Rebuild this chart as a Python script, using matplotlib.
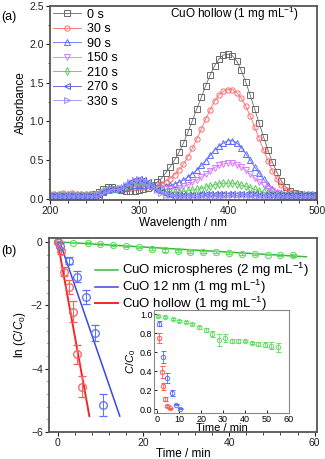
import numpy as np
import matplotlib
matplotlib.use("Agg")
import matplotlib.pyplot as plt
from matplotlib.ticker import MultipleLocator, FormatStrFormatter

plt.rcParams['font.family'] = ['Liberation Sans', 'DejaVu Sans']
plt.rcParams['mathtext.fontset'] = 'custom'
plt.rcParams['mathtext.rm'] = 'Liberation Sans'
plt.rcParams['mathtext.it'] = 'Liberation Sans:italic'

# ---- panel (a): absorption spectra ----
wavelength = np.arange(200, 505, 5)

abs_0s = [0.05, 0.05, 0.05, 0.05, 0.05, 0.05, 0.05, 0.05, 0.05, 0.05,
          0.06, 0.08, 0.13, 0.15, 0.15, 0.13, 0.11, 0.10, 0.10, 0.10,
          0.11, 0.12, 0.14, 0.17, 0.21, 0.26, 0.33, 0.41, 0.50, 0.60,
          0.72, 0.86, 1.01, 1.16, 1.31, 1.46, 1.60, 1.72, 1.81, 1.86,
          1.87, 1.85, 1.78, 1.66, 1.51, 1.34, 1.16, 0.98, 0.80, 0.63,
          0.47, 0.34, 0.23, 0.15, 0.10, 0.07, 0.06, 0.05, 0.05, 0.05,
          0.05]
abs_30s = [0.06, 0.06, 0.06, 0.07, 0.06, 0.07, 0.06, 0.06, 0.06, 0.06,
           0.06, 0.07, 0.09, 0.11, 0.12, 0.12, 0.12, 0.13, 0.14, 0.15,
           0.15, 0.15, 0.15, 0.16, 0.17, 0.19, 0.22, 0.26, 0.31, 0.37,
           0.45, 0.54, 0.65, 0.77, 0.90, 1.03, 1.15, 1.26, 1.34, 1.39,
           1.41, 1.41, 1.37, 1.30, 1.20, 1.07, 0.93, 0.78, 0.63, 0.49,
           0.36, 0.25, 0.17, 0.11, 0.08, 0.07, 0.06, 0.06, 0.06, 0.06,
           0.06]
abs_90s = [0.04, 0.04, 0.04, 0.04, 0.04, 0.04, 0.04, 0.04, 0.04, 0.04,
           0.04, 0.06, 0.09, 0.11, 0.12, 0.12, 0.13, 0.14, 0.16, 0.17,
           0.18, 0.18, 0.17, 0.16, 0.15, 0.15, 0.16, 0.17, 0.19, 0.21,
           0.24, 0.28, 0.32, 0.37, 0.43, 0.49, 0.56, 0.63, 0.68, 0.72,
           0.75, 0.75, 0.72, 0.66, 0.58, 0.50, 0.41, 0.33, 0.25, 0.18,
           0.13, 0.09, 0.07, 0.05, 0.04, 0.04, 0.04, 0.04, 0.04, 0.04,
           0.04]
abs_150s = [0.04, 0.04, 0.04, 0.04, 0.04, 0.04, 0.04, 0.04, 0.04, 0.04,
            0.04, 0.06, 0.09, 0.11, 0.12, 0.12, 0.13, 0.15, 0.17, 0.19,
            0.20, 0.19, 0.17, 0.15, 0.13, 0.12, 0.12, 0.12, 0.13, 0.14,
            0.16, 0.18, 0.21, 0.24, 0.28, 0.32, 0.36, 0.40, 0.43, 0.45,
            0.46, 0.46, 0.44, 0.41, 0.37, 0.32, 0.27, 0.22, 0.17, 0.13,
            0.10, 0.07, 0.05, 0.04, 0.04, 0.04, 0.04, 0.04, 0.04, 0.04,
            0.04]
abs_210s = [0.04, 0.04, 0.04, 0.04, 0.04, 0.04, 0.04, 0.04, 0.04, 0.04,
            0.04, 0.06, 0.10, 0.12, 0.13, 0.13, 0.14, 0.16, 0.19, 0.21,
            0.22, 0.21, 0.19, 0.16, 0.13, 0.11, 0.09, 0.08, 0.08, 0.08,
            0.09, 0.10, 0.11, 0.12, 0.13, 0.15, 0.16, 0.18, 0.19, 0.20,
            0.20, 0.20, 0.19, 0.17, 0.16, 0.14, 0.12, 0.10, 0.08, 0.07,
            0.06, 0.05, 0.04, 0.04, 0.04, 0.04, 0.04, 0.04, 0.04, 0.04,
            0.04]
abs_270s = [0.03, 0.03, 0.03, 0.03, 0.03, 0.03, 0.03, 0.03, 0.03, 0.03,
            0.03, 0.05, 0.09, 0.12, 0.13, 0.13, 0.14, 0.17, 0.21, 0.24,
            0.25, 0.24, 0.21, 0.16, 0.11, 0.08, 0.06, 0.05, 0.05, 0.05,
            0.05, 0.05, 0.05, 0.05, 0.06, 0.06, 0.06, 0.06, 0.06, 0.065,
            0.065, 0.065, 0.065, 0.06, 0.06, 0.06, 0.06, 0.05, 0.05, 0.05,
            0.05, 0.04, 0.04, 0.04, 0.04, 0.04, 0.04, 0.04, 0.04, 0.04,
            0.04]
abs_330s = [0.02, 0.02, 0.02, 0.02, 0.02, 0.02, 0.02, 0.02, 0.02, 0.02,
            0.02, 0.04, 0.08, 0.11, 0.12, 0.12, 0.14, 0.17, 0.21, 0.24,
            0.25, 0.24, 0.21, 0.16, 0.11, 0.07, 0.05, 0.04, 0.03, 0.03,
            0.03, 0.03, 0.03, 0.03, 0.03, 0.03, 0.03, 0.03, 0.03, 0.03,
            0.04, 0.04, 0.04, 0.04, 0.04, 0.03, 0.03, 0.03, 0.03, 0.03,
            0.03, 0.03, 0.02, 0.02, 0.02, 0.02, 0.02, 0.02, 0.02, 0.02,
            0.02]

spectra = [abs_0s, abs_30s, abs_90s, abs_150s, abs_210s, abs_270s, abs_330s]
spec_labels = ['0 s', '30 s', '90 s', '150 s', '210 s', '270 s', '330 s']
spec_colors = ['#6a6a6a', '#ff6a6a', '#5c6cff', '#d77cff', '#55cc55', '#4c5cdc', '#9a8cff']
spec_markers = ['s', 'o', '^', 'v', 'd', '<', '>']

# ---- panel (b): kinetics ----
t_micro = [0, 3.5, 7, 10, 13, 16, 19, 22, 25, 28, 31, 34, 37, 40, 43, 46, 49, 52, 55]
ln_micro = [0, -0.02, -0.03, -0.06, -0.09, -0.13, -0.17, -0.22, -0.27, -0.29,
            -0.31, -0.31, -0.33, -0.35, -0.37, -0.38, -0.40, -0.41, -0.43]
err_micro = [0.03, 0.03, 0.03, 0.03, 0.03, 0.03, 0.03, 0.03, 0.04, 0.04,
             0.03, 0.03, 0.03, 0.03, 0.03, 0.03, 0.03, 0.04, 0.04]

t_12nm = [0, 0.6, 2.7, 4.6, 6.6, 8.7, 10.6]
ln_12nm = [0, -0.12, -0.59, -1.10, -1.74, -2.88, -5.14]
err_12nm = [0.02, 0.08, 0.12, 0.18, 0.22, 0.25, 0.35]

t_hollow = [0, 0.8, 1.5, 2.6, 3.5, 4.6, 5.6]
ln_hollow = [0, -0.29, -0.94, -1.41, -2.20, -3.54, -4.57]
err_hollow = [0.02, 0.08, 0.15, 0.22, 0.32, 0.30, 0.32]

# linear fits (start / end points)
fit_micro_t = [0, 58]
fit_micro_y = [0, -0.47]
fit_12nm_t = [0.5, 14.5]
fit_12nm_y = [0, -5.5]
fit_hollow_t = [0, 7.4]
fit_hollow_y = [0, -5.5]

# inset: C/C0
ins_t_micro = [0.5, 3.5, 7, 10, 13, 16, 19, 22, 25, 28, 31, 34, 37, 40, 43, 46, 49, 52, 55]
ins_c_micro = [0.98, 0.97, 0.95, 0.93, 0.92, 0.90, 0.86, 0.83, 0.79, 0.73,
               0.75, 0.72, 0.72, 0.72, 0.70, 0.69, 0.68, 0.67, 0.65]
ins_e_micro = [0.01, 0.01, 0.01, 0.01, 0.01, 0.01, 0.02, 0.02, 0.03, 0.06,
               0.04, 0.02, 0.02, 0.01, 0.01, 0.02, 0.03, 0.04, 0.05]
ins_t_12nm = [0.6, 2.7, 4.5, 6.5, 8.6, 10.5]
ins_c_12nm = [0.90, 0.55, 0.33, 0.17, 0.05, 0.005]
ins_e_12nm = [0.03, 0.06, 0.05, 0.03, 0.01, 0.005]
ins_t_hollow = [0.6, 1.9, 2.6, 3.5, 4.6, 5.6]
ins_c_hollow = [0.75, 0.39, 0.24, 0.11, 0.03, 0.01]
ins_e_hollow = [0.05, 0.06, 0.04, 0.02, 0.01, 0.005]

c_green = '#3cb83c'
c_blue = '#3848e8'
c_red = '#f02828'
m_green = '#66dd66'
m_blue = '#5c70ff'
m_red = '#ff5c5c'
spine_col = '#555555'


def style_axes(ax, lw=1.3):
    for s in ax.spines.values():
        s.set_color(spine_col)
        s.set_linewidth(lw)
    ax.tick_params(which='both', direction='out', colors='#222222', labelsize=7.5, pad=1.5)
    ax.tick_params(which='major', length=3, width=0.8)
    ax.tick_params(which='minor', length=1.8, width=0.6)


fig = plt.figure(figsize=(3.25, 4.59), dpi=100)

# ---------------- (a) ----------------
ax1 = fig.add_axes([0.154, 0.564, 0.821, 0.424])
for y, lab, col, mk in zip(spectra, spec_labels, spec_colors, spec_markers):
    ax1.plot(wavelength, y, color=col, marker=mk, markersize=3.8,
             markerfacecolor='none', markeredgewidth=0.7, linewidth=0.6, label=lab)
ax1.set_xlim(200, 500)
ax1.set_ylim(-0.02, 2.5)
ax1.xaxis.set_major_locator(MultipleLocator(100))
ax1.xaxis.set_minor_locator(MultipleLocator(20))
ax1.yaxis.set_major_locator(MultipleLocator(0.5))
ax1.yaxis.set_minor_locator(MultipleLocator(0.25))
ax1.yaxis.set_major_formatter(FormatStrFormatter('%.1f'))
style_axes(ax1)
ax1.set_xlabel('Wavelength / nm', fontsize=8.5, labelpad=0.5)
ax1.set_ylabel('Absorbance', fontsize=8.5, labelpad=2)
ax1.text(0.93, 0.958, 'CuO hollow (1 mg mL$^{-1}$)', transform=ax1.transAxes,
         ha='right', va='center', fontsize=8.5)
ax1.legend(loc='upper left', fontsize=9, frameon=False, handlelength=2.2,
           handletextpad=0.5, labelspacing=0.2, borderaxespad=0.1,
           borderpad=0.15, markerscale=1.0)
fig.text(0.005, 0.963, '(a)', fontsize=9, va='center')

# ---------------- (b) ----------------
ax2 = fig.add_axes([0.151, 0.059, 0.824, 0.423])
ax2.plot(fit_micro_t, fit_micro_y, color=c_green, linewidth=1.1,
         label='CuO microspheres (2 mg mL$^{-1}$)')
ax2.plot(fit_12nm_t, fit_12nm_y, color=c_blue, linewidth=1.1,
         label='CuO 12 nm (1 mg mL$^{-1}$)')
ax2.plot(fit_hollow_t, fit_hollow_y, color=c_red, linewidth=1.4,
         label='CuO hollow (1 mg mL$^{-1}$)')
ax2.errorbar(t_micro, ln_micro, yerr=err_micro, fmt='o', color=m_green,
             markerfacecolor='none', markersize=4.5, markeredgewidth=0.8,
             elinewidth=0.7, capsize=2.5)
ax2.errorbar(t_12nm, ln_12nm, yerr=err_12nm, fmt='o', color=m_blue,
             markerfacecolor='none', markersize=5.5, markeredgewidth=0.9,
             elinewidth=0.7, capsize=3)
ax2.errorbar(t_hollow, ln_hollow, yerr=err_hollow, fmt='o', color=m_red,
             markerfacecolor='none', markersize=5.5, markeredgewidth=0.9,
             elinewidth=0.7, capsize=3)
ax2.set_xlim(-2, 60.5)
ax2.set_ylim(-6, 0.13)
ax2.xaxis.set_major_locator(MultipleLocator(20))
ax2.xaxis.set_minor_locator(MultipleLocator(4))
ax2.yaxis.set_major_locator(MultipleLocator(2))
ax2.yaxis.set_minor_locator(MultipleLocator(0.4))
style_axes(ax2)
ax2.set_xlabel('Time / min', fontsize=8.5, labelpad=0)
ax2.set_ylabel('ln ($C$/$C_0$)', fontsize=8.5, labelpad=2)
ax2.legend(loc='upper left', bbox_to_anchor=(0.17, 0.88), fontsize=9.5,
           frameon=False, handlelength=1.8, handletextpad=0.3,
           labelspacing=-0.1, borderaxespad=0.0, borderpad=0.0)
fig.text(0.005, 0.453, '(b)', fontsize=9, va='center')

# ---------------- inset ----------------
ax3 = fig.add_axes([0.474, 0.100, 0.415, 0.224])
ax3.errorbar(ins_t_micro, ins_c_micro, yerr=ins_e_micro, fmt='o', color=m_green,
             markerfacecolor='none', markersize=3.2, markeredgewidth=0.7,
             elinewidth=0.6, capsize=1.8)
ax3.errorbar(ins_t_12nm, ins_c_12nm, yerr=ins_e_12nm, fmt='o', color=m_blue,
             markerfacecolor='none', markersize=3.2, markeredgewidth=0.7,
             elinewidth=0.6, capsize=1.8)
ax3.errorbar(ins_t_hollow, ins_c_hollow, yerr=ins_e_hollow, fmt='o', color=m_red,
             markerfacecolor='none', markersize=3.2, markeredgewidth=0.7,
             elinewidth=0.6, capsize=1.8)
ax3.set_xlim(-1.5, 60)
ax3.set_ylim(-0.04, 1.04)
ax3.xaxis.set_major_locator(MultipleLocator(10))
ax3.yaxis.set_major_locator(MultipleLocator(0.2))
ax3.yaxis.set_major_formatter(FormatStrFormatter('%.1f'))
for s in ax3.spines.values():
    s.set_color('#888888')
    s.set_linewidth(0.8)
ax3.tick_params(direction='in', length=2, width=0.6, labelsize=6.5, pad=1.2)
ax3.set_xlabel('Time / min', fontsize=8, labelpad=-0.5)
ax3.set_ylabel('$C$/$C_0$', fontsize=8, labelpad=1)

fig.savefig('out.png', dpi=100)
